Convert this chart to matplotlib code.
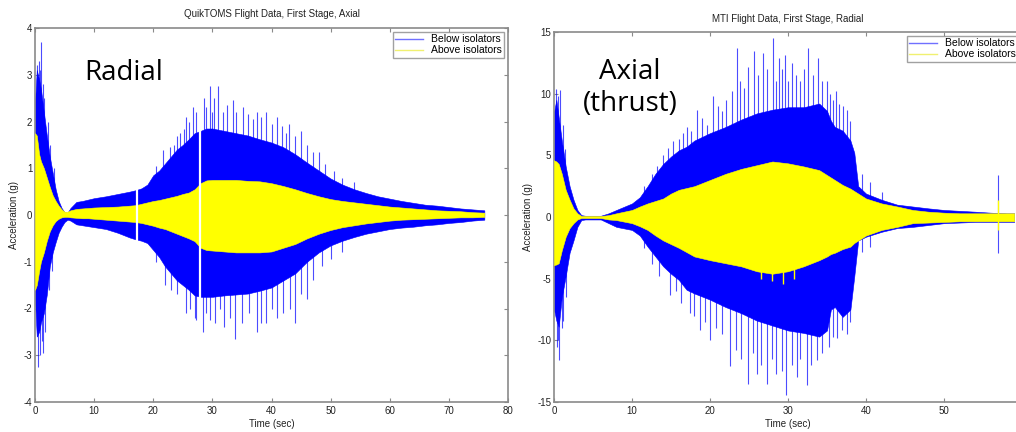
import matplotlib
matplotlib.use("Agg")
import matplotlib.pyplot as plt
from matplotlib.lines import Line2D

# ---------------- QuikTOMS flight data (first stage) ----------------
qt_time = [0, 0.3, 0.7, 1.0, 1.5, 2.0, 2.5, 3.0, 3.5, 4.0, 4.5, 5.0, 5.5, 6.0,
           7, 8, 9, 10, 12, 14, 16, 17, 18, 19, 20, 21, 22, 23, 24, 25, 26, 27,
           28, 29, 30, 32, 34, 36, 38, 40, 42, 44, 46, 48, 50, 52, 54, 56, 58,
           60, 62, 64, 66, 68, 70, 72, 74, 76]
qt_below_hi = [2.4, 3.1, 2.9, 2.7, 2.2, 1.7, 1.25, 0.9, 0.55, 0.3, 0.15, 0.06, 0.05, 0.15,
               0.28, 0.3, 0.33, 0.36, 0.4, 0.45, 0.5, 0.53, 0.57, 0.65, 0.85, 0.95, 1.1, 1.25, 1.4, 1.5, 1.62, 1.75,
               1.8, 1.85, 1.85, 1.8, 1.75, 1.7, 1.62, 1.55, 1.45, 1.3, 1.12, 0.95, 0.78, 0.65, 0.55, 0.47, 0.4,
               0.35, 0.3, 0.26, 0.22, 0.2, 0.17, 0.14, 0.12, 0.1]
qt_below_lo = [-1.8, -2.6, -2.5, -2.3, -2.1, -1.7, -1.1, -0.8, -0.58, -0.38, -0.25, -0.15, -0.1, -0.12,
               -0.2, -0.22, -0.24, -0.26, -0.3, -0.38, -0.48, -0.52, -0.55, -0.6, -0.75, -0.9, -1.1, -1.25, -1.4, -1.5, -1.6, -1.72,
               -1.75, -1.75, -1.75, -1.72, -1.7, -1.68, -1.62, -1.55, -1.4, -1.25, -1.0, -0.8, -0.65, -0.55, -0.47, -0.4, -0.35,
               -0.3, -0.27, -0.25, -0.22, -0.2, -0.17, -0.15, -0.12, -0.1]
qt_above_hi = [1.75, 1.7, 1.3, 1.15, 1.0, 0.8, 0.6, 0.42, 0.3, 0.2, 0.12, 0.07, 0.07, 0.1,
               0.13, 0.14, 0.15, 0.16, 0.17, 0.18, 0.2, 0.21, 0.24, 0.27, 0.3, 0.32, 0.35, 0.38, 0.41, 0.45, 0.48, 0.55,
               0.68, 0.74, 0.75, 0.75, 0.75, 0.73, 0.72, 0.68, 0.62, 0.55, 0.47, 0.4, 0.34, 0.3, 0.27, 0.24, 0.21,
               0.18, 0.16, 0.14, 0.12, 0.1, 0.09, 0.08, 0.06, 0.05]
qt_above_lo = [-1.6, -1.5, -1.2, -1.0, -0.8, -0.55, -0.35, -0.22, -0.13, -0.08, -0.05, -0.04, -0.04, -0.05,
               -0.06, -0.07, -0.07, -0.08, -0.1, -0.12, -0.14, -0.15, -0.17, -0.2, -0.23, -0.27, -0.3, -0.35, -0.4, -0.45, -0.5, -0.56,
               -0.7, -0.75, -0.76, -0.78, -0.8, -0.8, -0.8, -0.78, -0.7, -0.62, -0.5, -0.4, -0.32, -0.26, -0.22, -0.18, -0.15,
               -0.12, -0.1, -0.09, -0.08, -0.07, -0.06, -0.05, -0.05, -0.04]
# isolated peaks of the below-isolator signal
qt_peak_up_t = [0.3, 0.6, 0.9, 1.0, 1.3, 1.6, 2.2, 2.6, 3.2,
                20.5, 21.7, 22.8, 23.5, 24.0, 24.6, 25.2, 25.6, 26.1, 26.7, 27.3,
                28.5, 28.9, 29.6, 30.0, 30.3, 31.0, 31.8, 32.5, 33.5, 34.0, 35.2, 36.0, 36.8,
                37.5, 38.3, 39.0, 40.0, 41.0, 41.8, 42.5, 43.0, 44.0, 45.0, 46.0, 47.0, 48.0,
                49.0, 50.5, 52.0, 54.0]
qt_peak_up_g = [3.2, 3.3, 3.1, 3.7, 2.8, 2.5, 2.0, 1.5, 1.0,
                1.05, 1.4, 1.45, 1.5, 1.7, 1.75, 1.85, 2.1, 2.0, 2.3, 2.2,
                2.5, 2.3, 2.75, 2.2, 2.5, 2.75, 2.2, 2.35, 2.45, 2.2, 2.3, 2.15, 2.05,
                2.2, 2.1, 2.2, 1.95, 2.1, 1.9, 1.75, 1.95, 1.7, 1.8, 1.5, 1.35, 1.35,
                1.1, 0.95, 0.8, 0.7]
qt_peak_dn_t = [0.45, 0.8, 1.1, 1.4, 1.7, 2.3, 2.8,
                20.5, 22.0, 23.0, 24.0, 25.6, 26.3, 27.0, 27.3, 28.4, 29.0, 29.6, 30.5, 31.3,
                32.0, 33.0, 33.8, 35.0, 36.2, 37.5, 38.2, 39.0, 40.0, 41.0, 42.0, 43.2, 44.0,
                45.0, 46.0, 47.0, 48.5, 50.0, 52.0]
qt_peak_dn_g = [-3.25, -3.0, -2.7, -2.95, -2.5, -1.6, -1.2,
                -1.0, -1.5, -1.6, -1.7, -2.1, -2.0, -2.2, -2.25, -2.5, -2.1, -2.25, -2.3, -2.0,
                -2.4, -2.2, -2.65, -2.3, -2.1, -2.5, -2.3, -2.3, -2.0, -2.2, -2.1, -2.0, -2.3,
                -1.7, -1.8, -1.4, -1.1, -0.95, -0.8]
# data dropouts
qt_gap_t = [17.2, 27.9]
qt_gap_hi = [0.62, 2.0]
qt_gap_lo = [-0.62, -2.5]

# ---------------- MTI flight data (first stage) ----------------
mti_time = [0, 0.3, 0.6, 1.0, 1.5, 2.0, 2.5, 3.0, 3.5, 4.0, 5.0, 6.0, 7, 8, 10, 11, 12, 13, 14,
            15, 16, 17, 18, 20, 22, 24, 26, 28, 30, 32, 34, 35, 35.5, 36, 37, 38, 38.5, 39,
            40, 42, 44, 46, 48, 50, 52, 54, 56, 58, 59]
mti_below_hi = [8.5, 9.5, 8.1, 6.2, 4.1, 2.5, 1.4, 0.57, 0.15, 0.1, 0.1, 0.1, 0.3, 0.57, 1.1, 1.6, 2.5, 3.5, 4.3,
                4.9, 5.4, 5.7, 6.2, 6.8, 7.3, 7.9, 8.4, 8.7, 8.9, 8.9, 9.2, 8.6, 7.8, 7.3, 7.0, 6.2, 5.2, 2.5,
                1.9, 1.4, 1.0, 0.85, 0.7, 0.57, 0.5, 0.43, 0.35, 0.3, 0.3]
mti_below_lo = [-7.5, -8.4, -8.9, -6.5, -4.8, -2.9, -1.9, -0.8, -0.25, -0.2, -0.2, -0.2, -0.5, -0.8, -1.05, -1.5, -2.4, -3.2, -4.0,
                -4.6, -5.1, -5.9, -6.2, -6.7, -7.3, -7.8, -8.4, -8.8, -9.2, -9.4, -9.7, -9.2, -7.5, -7.3, -8.1, -7.5, -4.8, -1.9,
                -1.6, -1.2, -0.9, -0.8, -0.65, -0.5, -0.45, -0.4, -0.4, -0.4, -0.4]
mti_above_hi = [4.6, 4.5, 4.3, 3.5, 2.2, 1.4, 0.7, 0.3, 0.08, 0.08, 0.08, 0.08, 0.15, 0.3, 0.57, 0.85, 1.1, 1.3, 1.5,
                1.9, 2.2, 2.35, 2.5, 3.0, 3.5, 3.9, 4.2, 4.5, 4.35, 4.1, 3.8, 3.4, 3.2, 3.0, 2.6, 2.3, 2.1, 1.9,
                1.5, 1.1, 0.85, 0.57, 0.43, 0.35, 0.3, 0.3, 0.3, 0.3, 0.3]
mti_above_lo = [-3.9, -3.85, -3.75, -2.7, -1.6, -0.9, -0.5, -0.2, -0.08, -0.08, -0.08, -0.08, -0.2, -0.25, -0.5, -0.75, -1.05, -1.5, -1.9,
                -2.2, -2.5, -2.85, -3.2, -3.5, -3.75, -4.0, -4.4, -4.6, -4.4, -4.0, -3.5, -3.2, -3.0, -2.9, -2.6, -2.4, -2.1, -1.9,
                -1.5, -1.05, -0.8, -0.5, -0.45, -0.4, -0.35, -0.35, -0.35, -0.35, -0.35]
mti_peak_up_t = [0.3, 0.5, 0.8, 1.1, 1.4, 11.5, 12.5, 13.2, 14.0, 14.6, 15.3, 16.0, 16.5, 17.0, 17.6,
                 18.3, 19.0, 19.6, 20.4, 21.0, 21.6, 22.1, 22.8, 23.4, 23.9, 24.4, 24.9, 25.6, 26.2,
                 26.8, 27.3, 28.1, 28.4, 28.8, 29.2, 29.6, 30.0, 30.5, 31.0, 31.6, 32.1, 32.6, 33.2,
                 33.9, 34.4, 35.0, 35.4, 35.8, 36.2, 36.6, 37.0, 37.5, 38.0, 39.5, 40.5, 42.0, 56.9]
mti_peak_up_g = [10.4, 9.8, 10.3, 7.5, 5.5, 2.5, 3.5, 4.1, 5.0, 5.6, 6.2, 6.3, 6.8, 7.3, 7.0,
                 8.7, 8.0, 7.5, 9.8, 9.0, 8.6, 9.5, 10.2, 13.7, 11.0, 10.5, 12.2, 13.5, 11.5,
                 13.3, 12.0, 14.5, 11.0, 12.9, 12.0, 13.1, 11.0, 12.5, 11.5, 11.0, 12.0, 13.7, 11.5,
                 12.9, 11.0, 11.0, 10.0, 9.5, 10.2, 9.2, 9.0, 8.7, 7.8, 3.5, 2.8, 2.0, 3.4]
mti_peak_dn_t = [0.35, 0.5, 0.7, 1.0, 1.2, 1.5, 11.5, 12.5, 13.5, 14.9, 15.6, 16.3, 17.4, 18.0,
                 18.7, 19.3, 20.0, 20.8, 21.5, 22.6, 23.3, 24.0, 24.9, 25.5, 26.0, 26.6, 27.3,
                 28.0, 28.5, 29.2, 29.8, 30.5, 31.1, 31.6, 32.4, 33.0, 33.7, 34.3, 35.2, 35.8,
                 36.3, 36.9, 37.5, 38.0, 39.5, 40.5, 56.9]
mti_peak_dn_g = [-10.5, -10.0, -11.6, -9.0, -8.4, -6.5, -2.5, -3.8, -4.8, -6.3, -6.0, -7.0, -7.8, -8.0,
                 -9.2, -8.5, -10.0, -9.0, -9.5, -12.1, -10.8, -11.5, -13.5, -11.0, -12.7, -12.0, -13.5,
                 -11.5, -12.7, -12.5, -14.4, -12.0, -13.0, -11.5, -13.6, -12.0, -11.6, -11.0, -10.5, -9.7,
                 -9.8, -9.2, -9.5, -8.5, -2.8, -2.4, -2.9]
mti_above_peak_t = [26.5, 28.0, 29.4, 30.8, 56.9, 56.9]
mti_above_peak_g = [-5.0, -5.2, -5.4, -5.0, 1.4, -1.05]

BLUE = "#0000ff"
YELLOW = "#ffff00"
GRID_GRAY = "#8a8a8a"

plt.rcParams["font.family"] = ["Liberation Sans", "DejaVu Sans"]
plt.rcParams["axes.unicode_minus"] = False

fig = plt.figure(figsize=(10.16, 4.32), dpi=100)
fig.patch.set_facecolor("white")

ax1 = fig.add_axes([35 / 1016, 1 - 402 / 432, 473 / 1016, 374 / 432])
ax2 = fig.add_axes([554 / 1016, 1 - 402 / 432, 468 / 1016, 370 / 432])


def draw_signals(ax, t, bhi, blo, ahi, alo, up_t, up_g, dn_t, dn_g):
    ax.fill_between(t, blo, bhi, color=BLUE, lw=0.4, zorder=2)
    ax.vlines(up_t, 0, up_g, color=BLUE, lw=0.8, alpha=0.7, zorder=2)
    ax.vlines(dn_t, 0, dn_g, color=BLUE, lw=0.8, alpha=0.7, zorder=2)
    ax.fill_between(t, alo, ahi, color=YELLOW, lw=0.4, zorder=3)


def style_axes(ax, xlim, ylim, xticks, yticks, title, title_pad):
    ax.set_xlim(*xlim)
    ax.set_ylim(*ylim)
    ax.set_xticks(xticks)
    ax.set_yticks(yticks)
    for sp in ax.spines.values():
        sp.set_color(GRID_GRAY)
        sp.set_linewidth(1.2)
    ax.tick_params(direction="in", top=True, right=True, length=3, width=0.8,
                   color=GRID_GRAY, labelsize=7, labelcolor="#222222")
    ax.tick_params(axis="y", pad=2)
    ax.tick_params(axis="x", pad=3)
    ax.set_title(title, fontsize=7, color="#222222", pad=title_pad)
    ax.set_xlabel("Time (sec)", fontsize=7, color="#222222")
    ax.set_ylabel("Acceleration (g)", fontsize=7, color="#222222")
    handles = [Line2D([], [], color="#7070ff", lw=1.0),
               Line2D([], [], color="#f0f070", lw=1.0)]
    leg = ax.legend(handles, ["Below isolators", "Above isolators"], loc="upper right",
                    fontsize=7.5, frameon=True, fancybox=False, edgecolor=GRID_GRAY,
                    handlelength=2.6, handletextpad=0.8, borderpad=0.25,
                    labelspacing=0.1, borderaxespad=0.35)
    leg.get_frame().set_linewidth(1.0)
    leg.set_zorder(5)


# Left panel
draw_signals(ax1, qt_time, qt_below_hi, qt_below_lo, qt_above_hi, qt_above_lo,
             qt_peak_up_t, qt_peak_up_g, qt_peak_dn_t, qt_peak_dn_g)
ax1.vlines(qt_gap_t, qt_gap_lo, qt_gap_hi, color="white", lw=1.6, zorder=4)
style_axes(ax1, (0, 80), (-4, 4), range(0, 81, 10), range(-4, 5),
           "QuikTOMS Flight Data, First Stage, Axial", 8)
ax1.xaxis.set_label_coords(0.5, -0.045)
ax1.yaxis.set_label_coords(-0.034, 0.5)
ax1.text(0.188, 0.88, "Radial", transform=ax1.transAxes, ha="center", va="center",
         fontsize=20, family="Open Sans", color="black", zorder=6)

# Right panel (its 60 s edge lies just past the figure border)
draw_signals(ax2, mti_time, mti_below_hi, mti_below_lo, mti_above_hi, mti_above_lo,
             mti_peak_up_t, mti_peak_up_g, mti_peak_dn_t, mti_peak_dn_g)
ax2.vlines(mti_above_peak_t, 0, mti_above_peak_g, color=YELLOW, lw=1.0, zorder=3)
style_axes(ax2, (0, 60), (-15, 15), range(0, 60, 10), range(-15, 16, 5),
           "MTI Flight Data, First Stage, Radial", 7)
ax2.xaxis.set_label_coords(0.5, -0.045)
ax2.yaxis.set_label_coords(-0.045, 0.5)
ax2.text(0.162, 0.892, "Axial", transform=ax2.transAxes, ha="center", va="center",
         fontsize=20, family="Open Sans", color="black", zorder=6)
ax2.text(0.164, 0.805, "(thrust)", transform=ax2.transAxes, ha="center", va="center",
         fontsize=20, family="Open Sans", color="black", zorder=6)

fig.savefig("out.png", dpi=100, facecolor="white")
